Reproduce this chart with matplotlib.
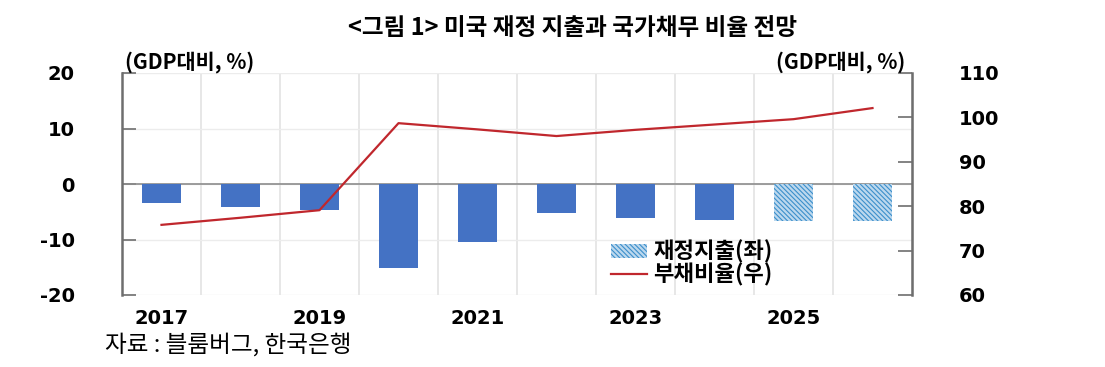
import matplotlib
matplotlib.use("Agg")
import matplotlib.pyplot as plt
import numpy as np
from matplotlib.patches import Patch
from matplotlib.lines import Line2D

plt.rcParams['font.family'] = ['Noto Sans CJK KR', 'DejaVu Sans']
plt.rcParams['hatch.linewidth'] = 0.8

years = [2017, 2018, 2019, 2020, 2021, 2022, 2023, 2024, 2025, 2026]
xlabels = ['2017', '', '2019', '', '2021', '', '2023', '', '2025', '']
spending = [-3.4, -4.2, -4.7, -15.1, -10.4, -5.2, -6.1, -6.5, -6.6, -6.6]
forecast = [False, False, False, False, False, False, False, False, True, True]
debt = [75.8, 77.4, 79.1, 98.7, 97.3, 95.8, 97.2, 98.4, 99.6, 102.1]
left_ticks = [20, 10, 0, -10, -20]
right_ticks = [110, 100, 90, 80, 70, 60]

HATCH = '\\\\\\\\\\\\\\'
HFACE = '#bcd8ee'
HEDGE = '#3b8fcb'

W, H = 1105, 367
fig = plt.figure(figsize=(W / 100, H / 100), dpi=100)
ax = fig.add_axes([122 / W, 1 - 295 / H, (912 - 122) / W, (295 - 73) / H])
ax2 = ax.twinx()

x = np.arange(len(years))
for xi, v, f in zip(x, spending, forecast):
    if f:
        ax.bar(xi, v, width=0.5, facecolor=HFACE, edgecolor=HEDGE,
               linewidth=0, hatch=HATCH, zorder=3)
    else:
        ax.bar(xi, v, width=0.5, color='#4472C4', zorder=3)

ax.axhline(0, color='#8c8c8c', lw=1.2, zorder=2)
ax.set_ylim(-20, 20)
ax.set_xlim(-0.5, len(years) - 0.5)
ax.set_yticks(left_ticks)
ax.set_yticklabels([str(t) for t in left_ticks], fontfamily='DejaVu Sans',
                   fontweight='bold', fontsize=14)
ax.set_xticks(x)
ax.set_xticklabels(xlabels, fontfamily='DejaVu Sans', fontweight='bold', fontsize=14)
ax.tick_params(axis='x', which='both', length=0, pad=10)
ax.tick_params(axis='y', direction='in', length=10, width=1.2, color='#6e6e6e', pad=34)
ax.set_xticks(np.arange(0.5, len(years) - 0.5, 1), minor=True)
ax.grid(True, which='minor', axis='x', color='#e3e3e3', lw=1.2, zorder=0)
ax.grid(True, which='major', axis='y', color='#ececec', lw=1.0, zorder=0)
for s in ['top', 'bottom']:
    ax.spines[s].set_visible(False)
    ax2.spines[s].set_visible(False)
ax.spines['left'].set_color('#6e6e6e')
ax.spines['left'].set_linewidth(1.8)
ax2.spines['right'].set_color('#6e6e6e')
ax2.spines['right'].set_linewidth(1.8)
ax2.spines['left'].set_visible(False)

ax2.plot(x, debt, color='#C0272D', lw=1.6, zorder=4)
ax2.set_ylim(60, 110)
ax2.set_yticks(right_ticks)
ax2.set_yticklabels([str(t) for t in right_ticks], fontfamily='DejaVu Sans',
                    fontweight='bold', fontsize=14)
ax2.tick_params(axis='y', direction='in', length=10, width=1.2, color='#6e6e6e', pad=34)

fig.text(573 / W, 1 - 28 / H, '<그림 1> 미국 재정 지출과 국가채무 비율 전망',
         ha='center', va='center', fontsize=17, fontweight='bold')
fig.text(125 / W, 1 - 62 / H, '(GDP대비, %)', ha='left', va='center',
         fontsize=15, fontweight='bold')
fig.text(905 / W, 1 - 62 / H, '(GDP대비, %)', ha='right', va='center',
         fontsize=15, fontweight='bold')
fig.text(105 / W, 1 - 345 / H, '자료 : 블룸버그, 한국은행', ha='left', va='center',
         fontsize=17)

handles = [Patch(facecolor=HFACE, edgecolor=HEDGE, linewidth=0, hatch=HATCH),
           Line2D([0], [0], color='#C0272D', lw=1.6)]
ax2.legend(handles, ['재정지출(좌)', '부채비율(우)'], loc='lower left',
           bbox_to_anchor=(600 / W, 1 - 298 / H), bbox_transform=fig.transFigure,
           frameon=False, prop={'size': 16, 'weight': 'bold'},
           handlelength=1.6, handleheight=0.6, handletextpad=0.3, labelspacing=0.0,
           borderpad=0)

fig.savefig('out.png', dpi=100)
